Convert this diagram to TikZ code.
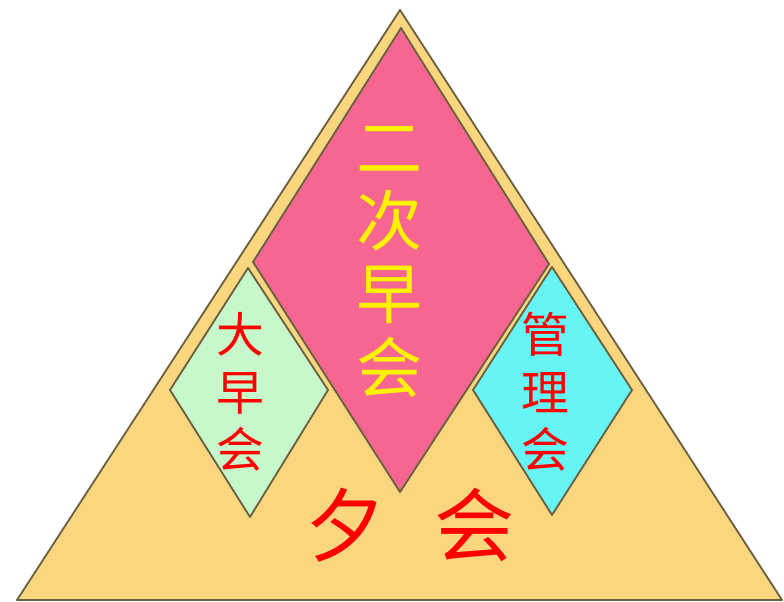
\documentclass[tikz,border=0pt]{standalone}
\usepackage{fontspec}
\newfontfamily\cjk{Noto Sans CJK SC}
\definecolor{baseyellow}{HTML}{FAD67F}
\definecolor{edgeolive}{HTML}{6B6040}
\definecolor{rosepink}{HTML}{F76691}
\definecolor{mintgreen}{HTML}{C6F8CC}
\definecolor{aquacyan}{HTML}{66F4F4}
\tikzset{
	piece/.style={draw=edgeolive, line width=1.3pt, line join=round},
	tallword/.style={align=center, inner sep=0pt, font=\cjk\fontsize{34}{41}\selectfont, text=red},
}

\begin{document}
\begin{tikzpicture}[x=0.025cm, y=-0.025cm]
	\useasboundingbox (0,0) rectangle (784,602);

	%outer triangle
	\draw[piece, fill=baseyellow] (400,10) -- (782,600) -- (17,600) -- cycle;

	%the three diamonds
	\draw[piece, fill=rosepink] (401,28) -- (549,264) -- (400,492) -- (253,262) -- cycle;
	\draw[piece, fill=mintgreen] (248,268) -- (328,390) -- (250,517) -- (170,390) -- cycle;
	\draw[piece, fill=aquacyan] (552,267) -- (632,390) -- (552,515) -- (473,390) -- cycle;

	%labels
	\node[tallword, text=yellow, font=\cjk\fontsize{47}{52}\selectfont] (second) at (390,262) {二\\次\\早\\会};
	\node[tallword] (big) at (240,392) {大\\早\\会};
	\node[tallword] (manage) at (545,392) {管\\理\\会};
	\node[inner sep=0pt, text=red, font=\cjk\fontsize{57}{60}\selectfont] (evening) at (410,525) {夕\hspace{0.6em}会};

\end{tikzpicture}
\end{document}
